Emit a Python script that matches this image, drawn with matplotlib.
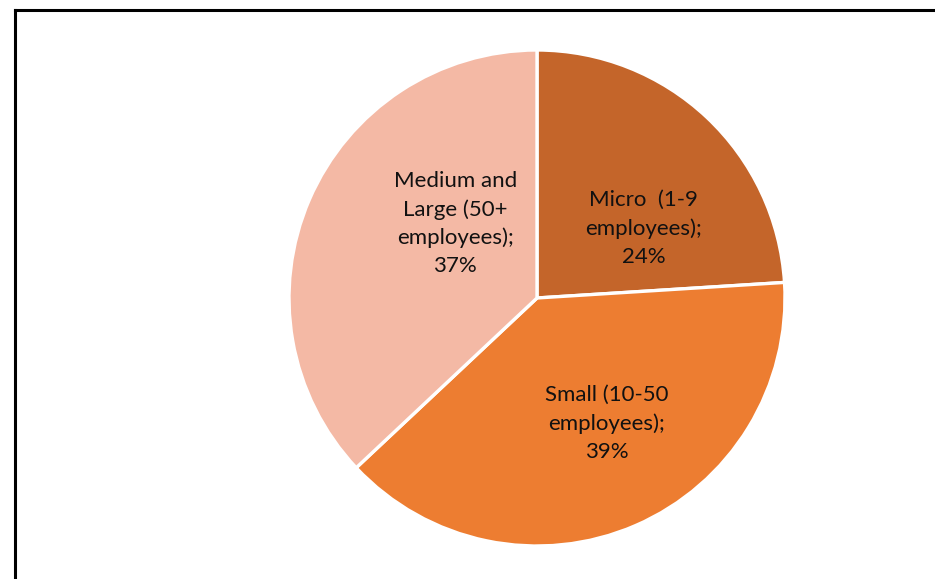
import matplotlib
matplotlib.use("Agg")
import matplotlib.pyplot as plt
from matplotlib.lines import Line2D

# data
categories = ["Micro  (1-9\nemployees)", "Small (10-50\nemployees)",
              "Medium and\nLarge (50+\nemployees)"]
shares = [24, 39, 37]
colors = ["#C4652A", "#ED7D31", "#F4B9A5"]

# where each label sits, as (x, y) in pie-radius units
label_pos = [(0.43, 0.28), (0.28, -0.505), (-0.33, 0.30)]

plt.rcParams["font.family"] = ["Lato", "DejaVu Sans"]

W, H = 935, 579
fig = plt.figure(figsize=(W / 100, H / 100), dpi=100)

# pie centre (537, 298) px, radius 248 px
cx, cy, r = 537, 298, 248
ax = fig.add_axes([(cx - r) / W, (H - cy - r) / H, 2 * r / W, 2 * r / H])
wedges, _ = ax.pie(shares, colors=colors, startangle=90, counterclock=False,
                   radius=1, wedgeprops=dict(edgecolor="white", linewidth=2.4))
ax.set_xlim(-1, 1)
ax.set_ylim(-1, 1)
ax.set_aspect("equal")
ax.axis("off")

for name, val, (x, y) in zip(categories, shares, label_pos):
    ax.text(x, y, f"{name};\n{val}%", ha="center", va="center",
            fontsize=16, linespacing=1.5, color="#111111")

# chart border (cut off at right and bottom)
lx, ty = 15 / W, 1 - 10 / H
fig.add_artist(Line2D([lx, lx], [0, ty], color="black", lw=2.2,
                      transform=fig.transFigure, solid_capstyle="projecting"))
fig.add_artist(Line2D([lx, 1], [ty, ty], color="black", lw=2.2,
                      transform=fig.transFigure, solid_capstyle="projecting"))

fig.savefig("out.png", dpi=100)
